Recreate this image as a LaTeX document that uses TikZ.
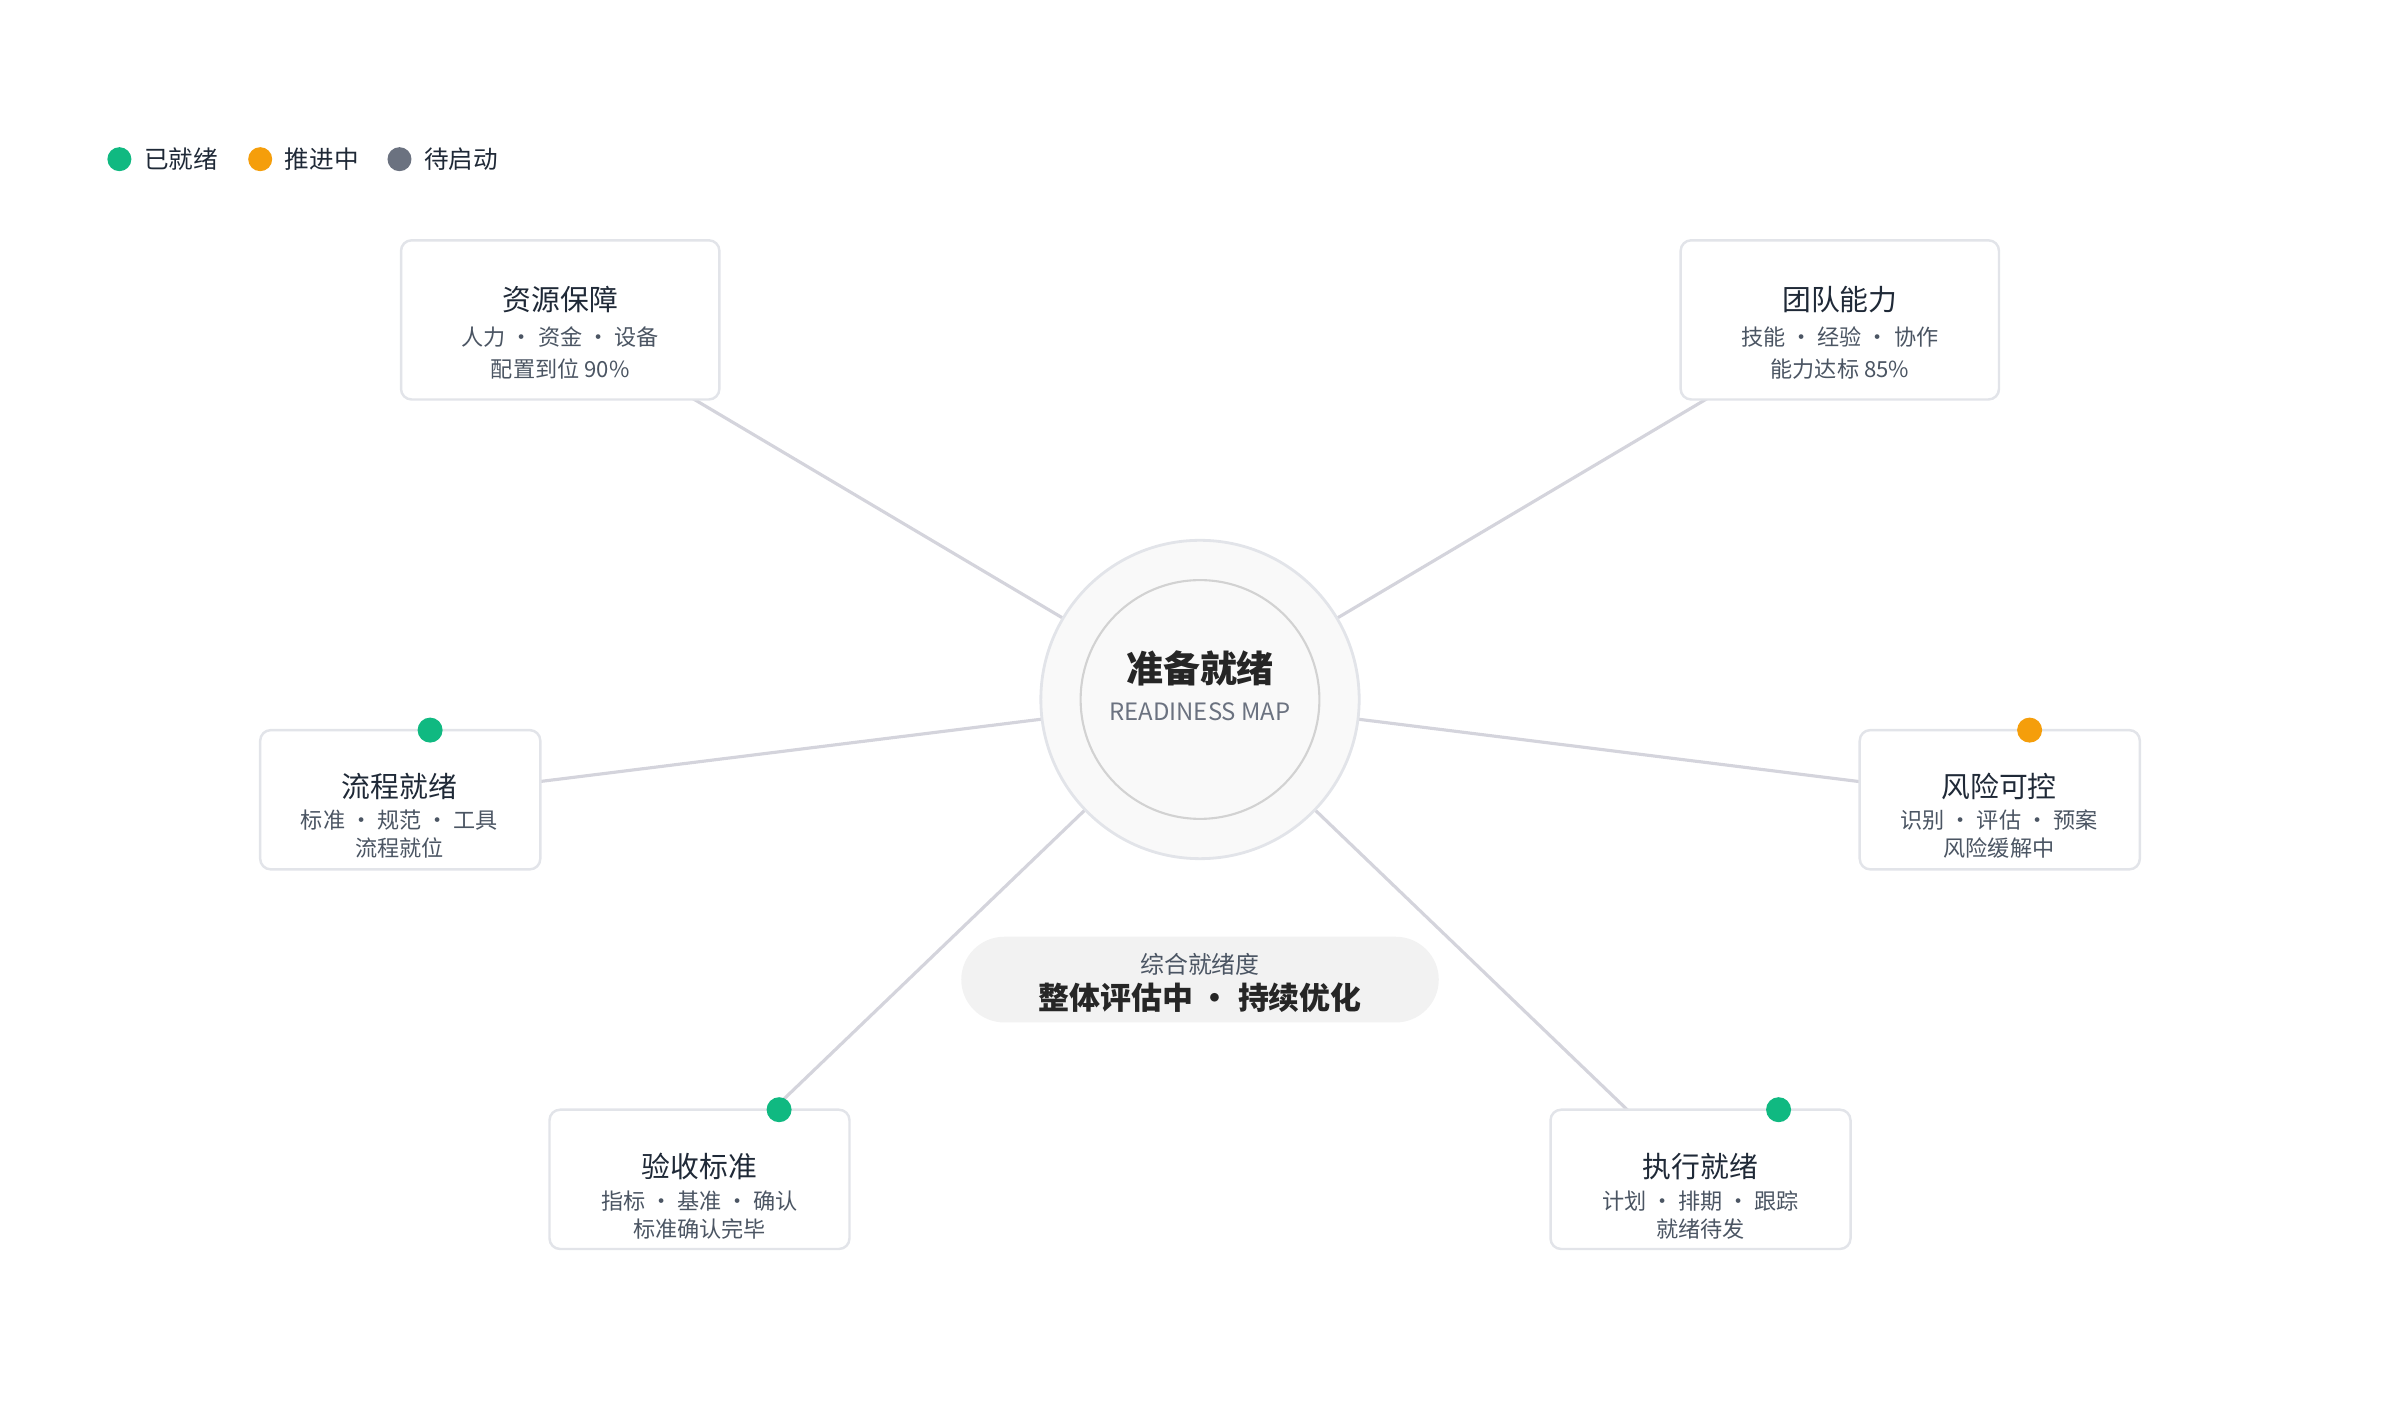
\documentclass[tikz,border=0pt]{standalone}
\usepackage{fontspec}
\setmainfont{Noto Sans CJK SC}
\definecolor{okc}{HTML}{10B981}
\definecolor{wipc}{HTML}{F59E0B}
\definecolor{todoc}{HTML}{6B7280}
\definecolor{tdark}{HTML}{1F2937}
\definecolor{tsub}{HTML}{4B5563}
\definecolor{bord}{HTML}{E2E4E9}
\definecolor{linec}{HTML}{D4D4DC}
\begin{document}
\begin{tikzpicture}[x=0.015306cm,y=-0.015306cm,
  box/.style={draw=bord,line width=0.7pt,fill=white,rounded corners=3pt},
  ttl/.style={font=\fontsize{8.2}{9}\selectfont,text=tdark},
  sub/.style={font=\fontsize{6.3}{7}\selectfont,text=tsub},
  conn/.style={draw=linec,line width=0.9pt},
  dot/.style={circle,inner sep=0pt,minimum size=0.24cm}]
\useasboundingbox (0,0) rectangle (1568,915);
\coordinate (c) at (784,457);
\coordinate (b1) at (366,209);
\coordinate (b2) at (1202,209);
\coordinate (b3) at (261,522);
\coordinate (b4) at (1306,522);
\coordinate (b5) at (457,771);
\coordinate (b6) at (1111,771);
\foreach \b in {b1,b2,b3,b4,b5,b6} \draw[conn] (c) -- (\b);
% legend
\node[dot,fill=okc] (l1) at (78,104) {};
\node[anchor=west,font=\fontsize{7}{8}\selectfont,text=tdark] (l1t) at (86,104) {已就绪};
\node[dot,fill=wipc] (l2) at (170,104) {};
\node[anchor=west,font=\fontsize{7}{8}\selectfont,text=tdark] (l2t) at (178,104) {推进中};
\node[dot,fill=todoc] (l3) at (261,104) {};
\node[anchor=west,font=\fontsize{7}{8}\selectfont,text=tdark] (l3t) at (269,104) {待启动};
% boxes
\draw[box] (262,157) rectangle (470,261);
\node[ttl] (t1) at (366,196) {资源保障};
\node[sub] (s1a) at (366,220) {人力 · 资金 · 设备};
\node[sub] (s1b) at (366,241) {配置到位 90\%};
\draw[box] (1098,157) rectangle (1306,261);
\node[ttl] (t2) at (1202,196) {团队能力};
\node[sub] (s2a) at (1202,220) {技能 · 经验 · 协作};
\node[sub] (s2b) at (1202,241) {能力达标 85\%};
\draw[box] (170,477) rectangle (353,568);
\node[ttl] (t3) at (261,514) {流程就绪};
\node[sub] (s3a) at (261,536) {标准 · 规范 · 工具};
\node[sub] (s3b) at (261,554) {流程就位};
\node[dot,fill=okc,minimum size=0.25cm] (d3) at (281,477) {};
\draw[box] (1215,477) rectangle (1398,568);
\node[ttl] (t4) at (1306,514) {风险可控};
\node[sub] (s4a) at (1306,536) {识别 · 评估 · 预案};
\node[sub] (s4b) at (1306,554) {风险缓解中};
\node[dot,fill=wipc,minimum size=0.25cm] (d4) at (1326,477) {};
\draw[box] (359,725) rectangle (555,816);
\node[ttl] (t5) at (457,762) {验收标准};
\node[sub] (s5a) at (457,785) {指标 · 基准 · 确认};
\node[sub] (s5b) at (457,803) {标准确认完毕};
\node[dot,fill=okc,minimum size=0.25cm] (d5) at (509,725) {};
\draw[box] (1013,725) rectangle (1209,816);
\node[ttl] (t6) at (1111,762) {执行就绪};
\node[sub] (s6a) at (1111,785) {计划 · 排期 · 跟踪};
\node[sub] (s6b) at (1111,803) {就绪待发};
\node[dot,fill=okc,minimum size=0.25cm] (d6) at (1162,725) {};
% center
\draw[draw=bord,line width=0.8pt,fill=gray!5] (c) circle (104);
\draw[draw=gray!35,line width=0.6pt,fill=gray!5] (c) circle (78);
\node[font=\fontsize{10.5}{12}\selectfont\bfseries,text=black!85] (ct) at (784,437) {准备就绪};
\node[font=\fontsize{6.8}{8}\selectfont,text=todoc] (cs) at (784,465) {READINESS MAP};
% pill
\fill[gray!10,rounded corners=0.43cm] (628,612) rectangle (940,668);
\node[font=\fontsize{6.8}{8}\selectfont,text=tsub] (p1) at (784,630) {综合就绪度};
\node[font=\fontsize{8.8}{10}\selectfont\bfseries,text=black!85] (p2) at (784,652) {整体评估中 · 持续优化};
\end{tikzpicture}
\end{document}
